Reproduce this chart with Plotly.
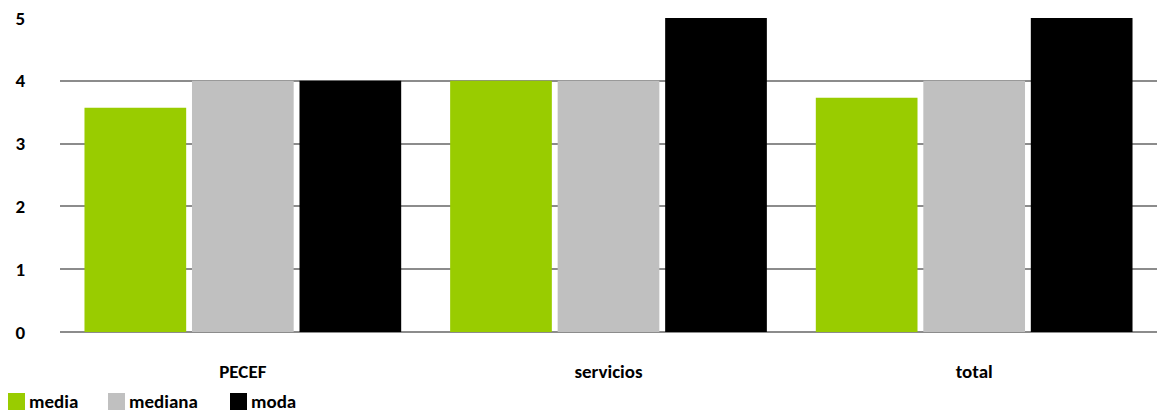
import plotly.graph_objects as go

# Categories and statistics per group
categorias = ["PECEF", "servicios", "total"]
media = [3.57, 4.0, 3.73]
mediana = [4, 4, 4]
moda = [4, 5, 5]
y_ticks = [0, 1, 2, 3, 4, 5]

font_family = "Carlito, Calibri, 'Liberation Sans', Arial, sans-serif"

W, H = 1157, 412
M_L, M_R, M_T, M_B = 60, 0, 18, 80
plot_w = W - M_L - M_R
plot_h = H - M_T - M_B


def px_to_paper(px, py):
    """Convert page pixel coordinates to paper coordinates."""
    return (px - M_L) / plot_w, (H - M_B - py) / plot_h


fig = go.Figure()
series = [("media", media, "#99cc00"), ("mediana", mediana, "#c0c0c0"), ("moda", moda, "#000000")]
for name, vals, color in series:
    fig.add_trace(go.Bar(
        name=name, x=categorias, y=vals,
        marker=dict(color=color, line=dict(width=0)),
        hoverinfo="x+y+name", showlegend=False,
    ))

# Legend drawn along the bottom-left: square swatch followed by its label
legend_left = [8, 108, 230]
swatch = 17
legend_cy = 401.5
shapes, annotations = [], []
for (name, _, color), lx in zip(series, legend_left):
    x0, y0 = px_to_paper(lx, legend_cy + swatch / 2)
    x1, y1 = px_to_paper(lx + swatch, legend_cy - swatch / 2)
    shapes.append(dict(type="rect", xref="paper", yref="paper",
                       x0=x0, x1=x1, y0=y0, y1=y1,
                       fillcolor=color, line=dict(width=0), layer="above"))
    tx, ty = px_to_paper(lx + swatch + 2, legend_cy)
    annotations.append(dict(text=name, xref="paper", yref="paper", x=tx, y=ty,
                            xanchor="left", yanchor="middle", showarrow=False,
                            font=dict(size=19, family=font_family, weight="bold",
                                      color="#000000")))

fig.update_layout(
    width=W, height=H,
    margin=dict(l=M_L, r=M_R, t=M_T, b=M_B),
    paper_bgcolor="white", plot_bgcolor="white",
    barmode="group", bargap=0.118, bargroupgap=0.054,
    font=dict(family=font_family, size=18, color="#000000"),
    showlegend=False,
    shapes=shapes, annotations=annotations,
)

fig.update_yaxes(
    range=[0, 5], tickvals=y_ticks, ticktext=[str(v) for v in y_ticks],
    showgrid=True, gridcolor="#8c8c8c", gridwidth=2,
    zeroline=True, zerolinecolor="#8c8c8c", zerolinewidth=2,
    showline=False, ticks="outside", ticklen=30, tickcolor="rgba(0,0,0,0)",
    tickfont=dict(size=19, family=font_family, weight="bold"),
    fixedrange=True,
)
fig.update_xaxes(
    showgrid=False, showline=False, ticks="outside", ticklen=22,
    tickcolor="rgba(0,0,0,0)",
    tickfont=dict(size=19, family=font_family, weight="bold"),
    fixedrange=True,
)

fig.write_html("out.html")
